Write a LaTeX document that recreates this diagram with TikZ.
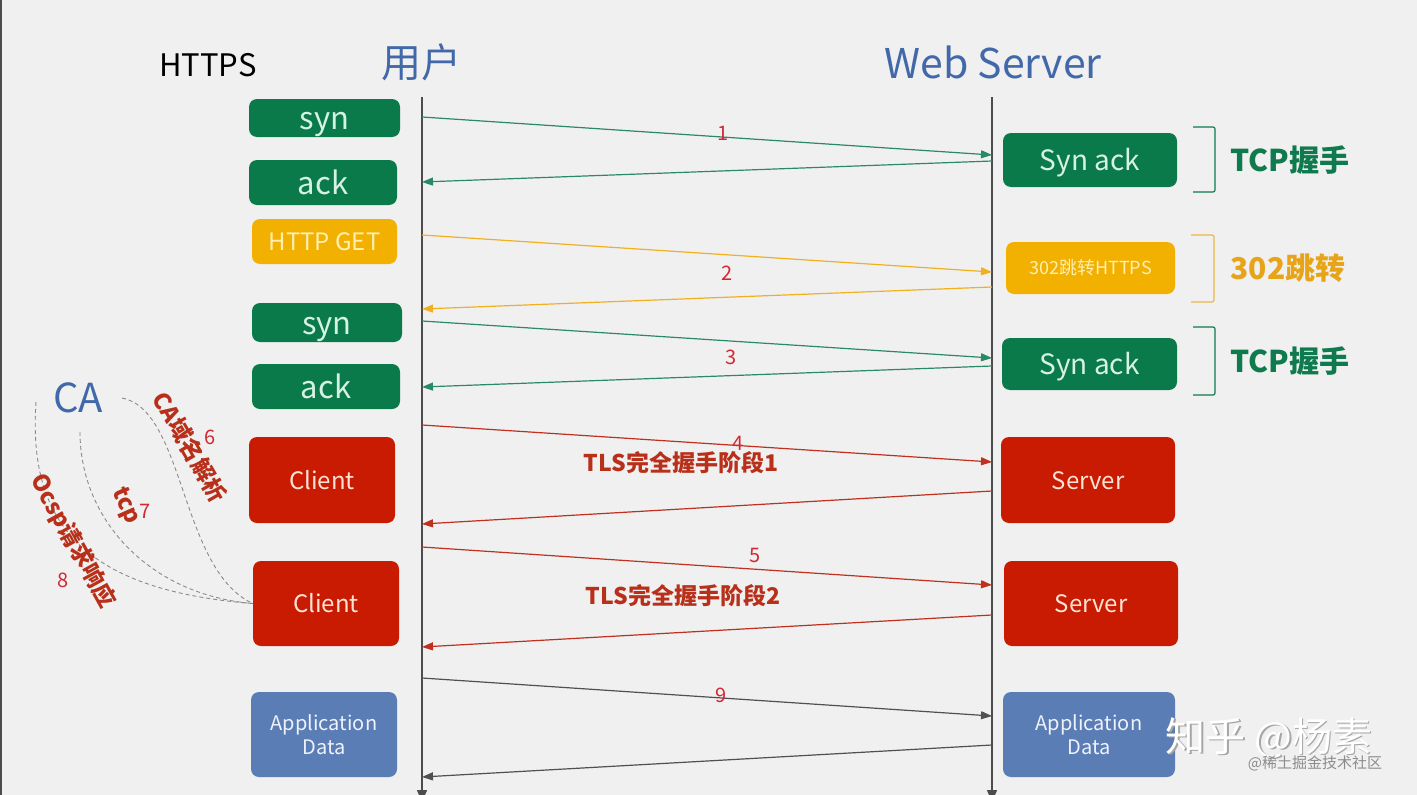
\documentclass[tikz,border=0pt]{standalone}
\usepackage{fontspec}
\setmainfont{Noto Sans CJK SC}
\usetikzlibrary{arrows.meta}
\definecolor{bg}{HTML}{F0F0F0}
\definecolor{gbox}{HTML}{0B7A4B}
\definecolor{gtxt}{HTML}{D5F2E3}
\definecolor{ybox}{HTML}{F2B000}
\definecolor{ytxt}{HTML}{FFEFB0}
\definecolor{rbox}{HTML}{C91A02}
\definecolor{rtxt}{HTML}{FFE2D4}
\definecolor{bbox}{HTML}{5B7DB6}
\definecolor{btxt}{HTML}{EEF2FA}
\definecolor{ttl}{HTML}{4169AA}
\definecolor{garr}{HTML}{2A8A66}
\definecolor{yarr}{HTML}{F0B020}
\definecolor{rarr}{HTML}{C0301E}
\definecolor{karr}{HTML}{505050}
\definecolor{num}{HTML}{D02A35}
\definecolor{tls}{HTML}{B8301A}
\definecolor{tcpg}{HTML}{0E7A4E}
\definecolor{ylab}{HTML}{E8A418}
\definecolor{dash}{HTML}{8A8A8A}
\newcommand\fsz[2]{\fontsize{#1}{#2}\selectfont}
\begin{document}
\begin{tikzpicture}[x=1pt,y=-1pt,
 box/.style={rounded corners=8pt, inner sep=0pt, align=center},
 tA/.style={font=\fsz{31}{35}, text height=26pt, text depth=3pt},
 tB/.style={font=\fsz{28}{32}, text height=24pt, text depth=2.5pt},
 tC/.style={font=\fsz{24}{28}, text height=20.5pt, text depth=2.3pt},
 tD/.style={font=\fsz{18}{22}, text height=15pt, text depth=2.1pt},
 gb/.style={box, fill=gbox, text=gtxt},
 yb/.style={box, fill=ybox, text=ytxt},
 rb/.style={box, fill=rbox, text=rtxt},
 bb/.style={box, fill=bbox, text=btxt},
 msg/.style={line width=1.2pt, -{Triangle[length=11pt,width=8pt]}},
 life/.style={draw=black!70, line width=1.3pt, -{Triangle[length=12pt,width=10pt]}},
 numl/.style={text=num, font=\fsz{20}{24}, inner sep=0pt},
 brk/.style={line width=1.2pt, rounded corners=2pt},
 cad/.style={draw=dash, line width=0.9pt, dash pattern=on 4pt off 3pt},
 rotl/.style={text=tls, font=\fsz{23}{27}\bfseries, inner sep=0pt}]
\useasboundingbox (0,0) rectangle (1417,795);
\clip (0,0) rectangle (1417,795);
\fill[bg] (0,0) rectangle (1417,795);
\draw[black!70, line width=2pt] (1,0) -- (1,795);

% titles
\node[font=\fsz{31}{36}] (https) at (208,65) {HTTPS};
\node[font=\fsz{40}{46}, text=ttl] (user) at (421,62) {用户};
\node[font=\fsz{41}{48}, text=ttl] (web) at (993,62) {Web Server};

% lifelines
\coordinate (ltop) at (422,97);
\coordinate (lbot) at (422,802);
\coordinate (rtop) at (992,97);
\coordinate (rbot) at (992,802);
\draw[life] (ltop) -- (lbot);
\draw[life] (rtop) -- (rbot);

% left boxes
\node[gb, tA, minimum width=151pt, minimum height=38pt] (l1) at (324.5,118) {syn};
\node[gb, tA, minimum width=148pt, minimum height=45pt] (l2) at (323,182.5) {ack};
\node[yb, tC, minimum width=145pt, minimum height=45pt] (l3) at (324.5,241.5) {HTTP GET};
\node[gb, tA, minimum width=150pt, minimum height=39pt] (l4) at (327,322.5) {syn};
\node[gb, tA, minimum width=148pt, minimum height=45pt] (l5) at (326,386.5) {ack};
\node[rb, tC, minimum width=146pt, minimum height=86pt] (l6) at (322,480) {Client};
\node[rb, tC, minimum width=146pt, minimum height=85pt] (l7) at (326,603.5) {Client};
\node[bb, font=\fsz{20}{24}, minimum width=146pt, minimum height=85pt] (l8) at (324,734.5) {Application\\Data};

% right boxes
\node[gb, tB, minimum width=174pt, minimum height=54pt] (r1) at (1090,160) {Syn ack};
\node[yb, tD, minimum width=169pt, minimum height=52pt] (r2) at (1090.5,268) {302跳转HTTPS};
\node[gb, tB, minimum width=175pt, minimum height=52pt] (r3) at (1089.5,364) {Syn ack};
\node[rb, tC, minimum width=174pt, minimum height=86pt] (r4) at (1088,480) {Server};
\node[rb, tC, minimum width=174pt, minimum height=85pt] (r5) at (1091,603.5) {Server};
\node[bb, font=\fsz{20}{24}, minimum width=172pt, minimum height=85pt] (r6) at (1089,734.5) {Application\\Data};

% message end points on lifelines
\coordinate (a1) at (422,117);  \coordinate (b1) at (992,155);
\coordinate (b1r) at (992,161); \coordinate (a1r) at (422,182);
\coordinate (a2) at (422,235);  \coordinate (b2) at (992,272);
\coordinate (b2r) at (992,287); \coordinate (a2r) at (422,309);
\coordinate (a3) at (422,321);  \coordinate (b3) at (992,358);
\coordinate (b3r) at (992,366); \coordinate (a3r) at (422,387);
\coordinate (a4) at (422,425);  \coordinate (b4) at (992,462);
\coordinate (b4r) at (992,491); \coordinate (a4r) at (422,524);
\coordinate (a5) at (422,547);  \coordinate (b5) at (992,585);
\coordinate (b5r) at (992,615); \coordinate (a5r) at (422,647);
\coordinate (a9) at (422,678);  \coordinate (b9) at (992,716);
\coordinate (b9r) at (992,745); \coordinate (a9r) at (422,777);

\draw[msg, garr] (a1) -- (b1);
\draw[msg, garr] (b1r) -- (a1r);
\draw[msg, yarr] (a2) -- (b2);
\draw[msg, yarr] (b2r) -- (a2r);
\draw[msg, garr] (a3) -- (b3);
\draw[msg, garr] (b3r) -- (a3r);
\draw[msg, rarr] (a4) -- (b4);
\draw[msg, rarr] (b4r) -- (a4r);
\draw[msg, rarr] (a5) -- (b5);
\draw[msg, rarr] (b5r) -- (a5r);
\draw[msg, karr] (a9) -- (b9);
\draw[msg, karr] (b9r) -- (a9r);

% numbers
\node[numl] (n1) at (723,133) {1};
\node[numl] (n2) at (727,273) {2};
\node[numl] (n3) at (731,357) {3};
\node[numl] (n4) at (738,443) {4};
\node[numl] (n5) at (755,555) {5};
\node[numl] (n9) at (721,695) {9};

% TLS labels
\node[text=tls, font=\fsz{23}{27}\bfseries] (tls1) at (681,463) {TLS完全握手阶段1};
\node[text=tls, font=\fsz{23}{27}\bfseries] (tls2) at (683,596) {TLS完全握手阶段2};

% right brackets and labels
\draw[brk, tcpg] (1193,127) -- (1215,127) -- (1215,192) -- (1193,192);
\draw[brk, ylab!80] (1191,235) -- (1214,235) -- (1214,302) -- (1191,302);
\draw[brk, tcpg] (1193,327) -- (1215,327) -- (1215,395) -- (1193,395);
\node[text=tcpg, font=\fsz{30}{34}\bfseries] (tcp1) at (1290,160) {TCP握手};
\node[text=ylab, font=\fsz{30}{34}\bfseries] (j302) at (1288,268) {302跳转};
\node[text=tcpg, font=\fsz{30}{34}\bfseries] (tcp2) at (1290,361) {TCP握手};

% CA
\node[text=ttl, font=\fsz{40}{46}] (ca) at (78,398) {CA};
\coordinate (caA) at (122,398);
\coordinate (caB) at (80,432);
\coordinate (caC) at (36,402);
\draw[cad] (caA) .. controls (185,410) and (180,570) .. (l7.west);
\draw[cad] (caB) .. controls (80,520) and (150,595) .. (l7.west);
\draw[cad] (caC) .. controls (28,520) and (80,590) .. (l7.west);
\node[rotl, rotate=-60] (dns) at (190,447) {CA域名解析};
\node[numl] (n6) at (210,437) {6};
\node[rotl, rotate=-66] (tcpc) at (125,506) {tcp};
\node[numl] (n7) at (145,511) {7};
\node[rotl, rotate=-61] (ocsp) at (73,541) {Ocsp请求响应};
\node[numl] (n8) at (63,580) {8};

% watermark
\node[text=black!35, font=\fsz{40}{46}] at (1270.5,739.5) {知乎 @杨素};
\node[text=white, font=\fsz{40}{46}] (wm) at (1269,738) {知乎 @杨素};
\node[text=black!45, font=\fsz{15}{18}] (wm2) at (1315,763) {@稀土掘金技术社区};
\end{tikzpicture}
\end{document}
